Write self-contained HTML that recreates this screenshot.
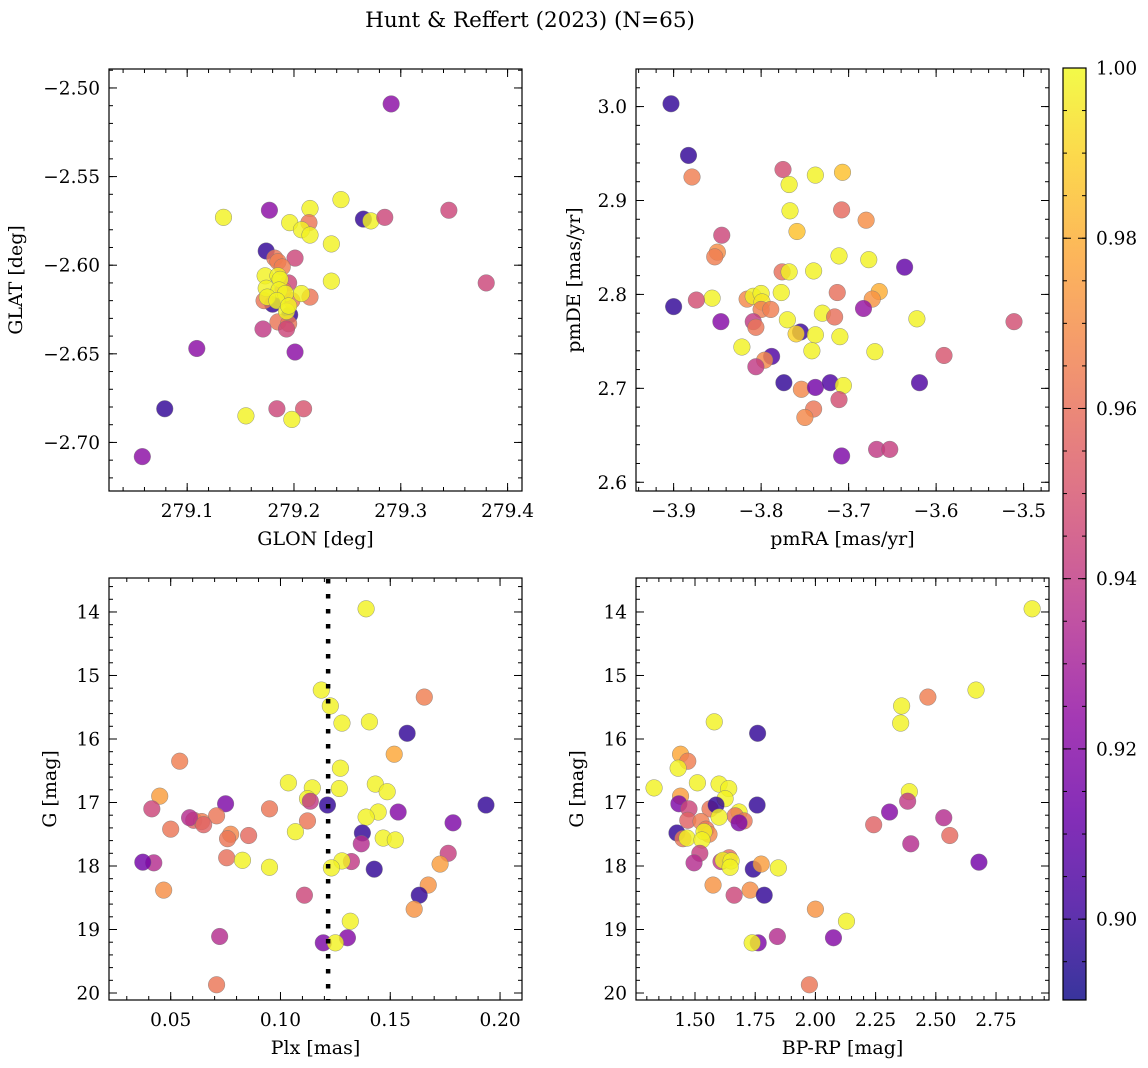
<!DOCTYPE html>
<html><head><meta charset="utf-8"><style>
html,body{margin:0;padding:0;background:#fff;}
svg{display:block;font-family:"DejaVu Serif","Liberation Serif",serif;}
</style></head><body>
<svg id="fig" width="1148" height="1068" viewBox="0 0 1148 1068" xmlns="http://www.w3.org/2000/svg">
<defs><linearGradient id="cbgrad" x1="0" y1="1" x2="0" y2="0"></linearGradient></defs>
<text x="530" y="27" font-size="21.5" text-anchor="middle">Hunt &amp; Reffert (2023) (N=65)</text>
</svg>
<script>
// ---- data: top-left (sky positions) ----
const glon=[279.291,279.134,279.177,279.244,279.215,279.265,279.272,279.285,279.345,279.196,279.214,279.207,279.215,279.235,279.174,279.182,279.185,279.201,279.189,279.195,279.180,279.196,279.185,279.195,279.193,279.171,279.215,279.172,279.198,279.190,279.173,279.185,279.187,279.235,279.174,279.186,279.192,279.207,279.175,279.184,279.193,279.195,279.109,279.201,279.380,279.079,279.184,279.209,279.155,279.198,279.058];
const glat=[-2.509,-2.573,-2.569,-2.563,-2.568,-2.574,-2.575,-2.573,-2.569,-2.576,-2.576,-2.580,-2.583,-2.588,-2.592,-2.596,-2.598,-2.596,-2.601,-2.610,-2.622,-2.628,-2.632,-2.633,-2.636,-2.636,-2.618,-2.620,-2.620,-2.614,-2.606,-2.606,-2.608,-2.609,-2.613,-2.614,-2.616,-2.616,-2.618,-2.620,-2.626,-2.623,-2.647,-2.649,-2.610,-2.681,-2.681,-2.681,-2.685,-2.687,-2.708];
const probA=[0.922,0.998,0.922,0.998,0.998,0.898,0.998,0.945,0.945,0.998,0.962,0.998,0.998,0.998,0.898,0.962,0.965,0.945,0.965,0.945,0.898,0.898,0.962,0.962,0.945,0.940,0.962,0.962,0.962,0.962,0.998,0.998,0.998,0.998,0.998,0.998,0.998,0.998,0.998,0.998,0.998,0.998,0.922,0.922,0.945,0.898,0.945,0.950,0.998,0.998,0.922];
// ---- data: top-right (proper motions) ----
const pmra=[-3.903,-3.883,-3.879,-3.775,-3.738,-3.707,-3.768,-3.767,-3.708,-3.680,-3.759,-3.845,-3.850,-3.853,-3.711,-3.677,-3.636,-3.776,-3.768,-3.740,-3.856,-3.874,-3.900,-3.816,-3.809,-3.800,-3.777,-3.799,-3.800,-3.789,-3.713,-3.665,-3.673,-3.683,-3.730,-3.716,-3.622,-3.770,-3.511,-3.846,-3.809,-3.806,-3.755,-3.760,-3.738,-3.710,-3.822,-3.742,-3.670,-3.591,-3.788,-3.796,-3.806,-3.774,-3.754,-3.738,-3.721,-3.706,-3.619,-3.711,-3.740,-3.750,-3.708,-3.668,-3.653];
const pmde=[3.003,2.948,2.925,2.933,2.927,2.930,2.917,2.889,2.890,2.879,2.867,2.863,2.845,2.840,2.841,2.837,2.829,2.824,2.824,2.825,2.796,2.794,2.787,2.795,2.798,2.801,2.802,2.792,2.784,2.784,2.802,2.803,2.795,2.785,2.780,2.776,2.774,2.773,2.771,2.771,2.771,2.765,2.760,2.758,2.757,2.755,2.744,2.740,2.739,2.735,2.734,2.730,2.723,2.706,2.699,2.701,2.706,2.703,2.706,2.688,2.678,2.669,2.628,2.635,2.635];
const probB=[0.898,0.898,0.965,0.948,0.998,0.985,0.998,0.998,0.958,0.970,0.985,0.945,0.970,0.965,0.998,0.998,0.910,0.960,0.998,0.998,0.998,0.948,0.898,0.968,0.998,0.998,0.998,0.995,0.965,0.965,0.960,0.980,0.972,0.925,0.998,0.960,0.998,0.998,0.948,0.920,0.940,0.962,0.900,0.990,0.998,0.998,0.998,0.998,0.998,0.950,0.905,0.968,0.940,0.898,0.968,0.915,0.905,0.998,0.905,0.948,0.962,0.968,0.918,0.940,0.942];
// ---- data: bottom panels (parallax, magnitude, colour) ----
const plx=[0.139,0.1186,0.1655,0.1227,0.128,0.1405,0.1577,0.1518,0.0541,0.1273,0.1145,0.1036,0.1432,0.1268,0.045,0.1486,0.1123,0.095,0.1214,0.075,0.1936,0.0414,0.1136,0.1445,0.0709,0.1123,0.1786,0.139,0.0605,0.0641,0.05,0.0773,0.1068,0.1373,0.0759,0.1468,0.1523,0.1536,0.0586,0.0855,0.065,0.1368,0.1764,0.0423,0.0373,0.1323,0.0755,0.0827,0.128,0.095,0.1427,0.1727,0.1232,0.1673,0.1109,0.0468,0.1632,0.1609,0.1318,0.1305,0.0723,0.1195,0.125,0.0709];
const gmag=[13.95,15.23,15.34,15.48,15.75,15.73,15.91,16.24,16.35,16.46,16.77,16.69,16.71,16.78,16.90,16.83,16.94,17.10,17.04,17.02,17.04,17.10,16.98,17.15,17.21,17.29,17.32,17.23,17.28,17.30,17.42,17.50,17.46,17.48,17.57,17.56,17.59,17.15,17.24,17.52,17.35,17.65,17.80,17.95,17.94,17.93,17.87,17.91,17.92,18.02,18.05,17.97,18.03,18.30,18.46,18.38,18.46,18.68,18.87,19.13,19.11,19.21,19.21,19.87];
const bprp=[2.90,2.667,2.467,2.358,2.354,1.58,1.76,1.44,1.47,1.43,1.33,1.51,1.60,1.64,1.44,2.39,1.625,1.5625,1.5875,1.433,1.758,1.475,2.383,1.683,1.667,1.704,1.683,1.60,1.47,1.525,1.546,1.558,1.5375,1.425,1.45,1.467,1.529,2.308,2.533,2.558,2.242,2.396,1.52,1.496,2.679,1.608,1.642,1.617,1.65,1.646,1.742,1.775,1.846,1.575,1.6625,1.729,1.7875,2.0,2.129,2.075,1.842,1.7625,1.7375,1.975];
const probC=[0.998,0.998,0.965,0.998,0.998,0.998,0.898,0.978,0.965,0.998,0.998,0.998,0.998,0.998,0.975,0.998,0.998,0.962,0.898,0.918,0.898,0.945,0.940,0.998,0.962,0.962,0.918,0.998,0.955,0.965,0.962,0.968,0.998,0.898,0.962,0.998,0.998,0.920,0.935,0.958,0.955,0.935,0.942,0.935,0.915,0.940,0.960,0.998,0.998,0.998,0.898,0.975,0.998,0.972,0.945,0.970,0.898,0.972,0.998,0.920,0.935,0.918,0.998,0.962];
// ---- tick labels ----
const glonTicks=[279.1,279.2,279.3,279.4];
const glatTicks=[-2.50,-2.55,-2.60,-2.65,-2.70];
const pmraTicks=[-3.9,-3.8,-3.7,-3.6,-3.5];
const pmdeTicks=[2.6,2.7,2.8,2.9,3.0];
const plxTicks=[0.05,0.10,0.15,0.20];
const gTicks=[14,15,16,17,18,19,20];
const bprpTicks=[1.50,1.75,2.00,2.25,2.50,2.75];
const cbTicks=[0.90,0.92,0.94,0.96,0.98,1.00];
const plxCut=[0.1217];

const NS="http://www.w3.org/2000/svg";
const svg=document.getElementById('fig');
const TF=18.5, LF=19;
function el(tag,attrs,parent){const e=document.createElementNS(NS,tag);for(const k in attrs)e.setAttribute(k,attrs[k]);(parent||svg).appendChild(e);return e;}
const PL=[[0,'#0d0887'],[0.1,'#41049d'],[0.2,'#6a00a8'],[0.3,'#8f0da4'],[0.4,'#b12a90'],[0.5,'#cc4778'],[0.6,'#e16462'],[0.7,'#f2844b'],[0.8,'#fca636'],[0.9,'#fcce25'],[1,'#f0f921']];
function hx(h){return [1,3,5].map(i=>parseInt(h.substr(i,2),16));}
function plasma(t){t=Math.max(0,Math.min(1,t));for(let i=1;i<PL.length;i++){if(t<=PL[i][0]){const a=hx(PL[i-1][1]),b=hx(PL[i][1]);const f=(t-PL[i-1][0])/(PL[i][0]-PL[i-1][0]);return 'rgb('+a.map((v,j)=>Math.round(v+(b[j]-v)*f)).join(',')+')';}}return PL[PL.length-1][1];}
const VMIN=0.8905,VMAX=1.0;
function cmap(v){return plasma((v-VMIN)/(VMAX-VMIN));}

function fmt(v,d){return (v<0?'\u2212':'')+Math.abs(v).toFixed(d);}

function makeAxis(cfg){
  const {name,x0,x1,y0,y1,xmin,xmax,ymin,ymax,invert}=cfg;
  const sx=v=>x0+(v-xmin)/(xmax-xmin)*(x1-x0);
  const sy=invert?(v=>y0+(v-ymin)/(ymax-ymin)*(y1-y0)):(v=>y1-(v-ymin)/(ymax-ymin)*(y1-y0));
  const g=el('g',{});
  
  
  const ticks=el('g',{stroke:'#000','stroke-width':1},g);
  
  
  const lo=Math.min(xmin,xmax),hi=Math.max(xmin,xmax);
  for(let k=Math.ceil(lo/cfg.xminor-1e-6);k*cfg.xminor<=hi+1e-9;k++){const X=sx(k*cfg.xminor);
    el('line',{x1:X,x2:X,y1:y1,y2:y1-4},ticks);el('line',{x1:X,x2:X,y1:y0,y2:y0+4},ticks);}
  const ylo=Math.min(ymin,ymax),yhi=Math.max(ymin,ymax);
  for(let k=Math.ceil(ylo/cfg.yminor-1e-6);k*cfg.yminor<=yhi+1e-9;k++){const Y=sy(k*cfg.yminor);
    el('line',{x1:x0,x2:x0+4,y1:Y,y2:Y},ticks);el('line',{x1:x1,x2:x1-4,y1:Y,y2:Y},ticks);}
  cfg.xticks.forEach(v=>{const X=sx(v);
    el('line',{x1:X,x2:X,y1:y1,y2:y1-8},ticks);el('line',{x1:X,x2:X,y1:y0,y2:y0+8},ticks);
    const t=el('text',{x:X,y:y1+26,'font-size':TF,'text-anchor':'middle'},g);t.textContent=fmt(v,cfg.xdec);
    
    });
  cfg.yticks.forEach(v=>{const Y=sy(v);
    el('line',{x1:x0,x2:x0+8,y1:Y,y2:Y},ticks);el('line',{x1:x1,x2:x1-8,y1:Y,y2:Y},ticks);
    const t=el('text',{x:x0-9,y:Y+6.5,'font-size':TF,'text-anchor':'end'},g);t.textContent=fmt(v,cfg.ydec);
    
    });
  const xl=el('text',{x:(x0+x1)/2,y:y1+54,'font-size':LF,'text-anchor':'middle'},g);xl.textContent=cfg.xlabel;
  
  
  const yl=el('text',{x:cfg.ylx,y:(y0+y1)/2,'font-size':LF,'text-anchor':'middle',transform:'rotate(-90 '+cfg.ylx+' '+((y0+y1)/2)+')'},g);yl.textContent=cfg.ylabel;
  
  
  const clip='clip-'+name;const cp=el('clipPath',{id:clip},g);el('rect',{x:x0,y:y0,width:x1-x0,height:y1-y0},cp);
  const pts=el('g',{'clip-path':'url(#'+clip+')'},g);
  
  
  return {sx,sy,g,pts,frame:()=>{const f=el('rect',{x:x0,y:y0,width:x1-x0,height:y1-y0,fill:'none',stroke:'#000','stroke-width':1.2},g);
    
    }};
}
function scatter(ax,xs,ys,cs){
  for(let i=0;i<xs.length;i++){
    const c=el('circle',{cx:ax.sx(xs[i]),cy:ax.sy(ys[i]),r:8.3,fill:cmap(cs[i]),'fill-opacity':0.82,stroke:'#777','stroke-width':0.5,'stroke-opacity':0.8},ax.pts);
    
    
  }
}
const axA=makeAxis({name:'sky-panel',x0:109,x1:522,y0:69,y1:491,xmin:279.0268,xmax:279.4135,ymin:-2.7274,ymax:-2.4893,xticks:glonTicks,yticks:glatTicks,xminor:0.02,yminor:0.01,xdec:1,ydec:2,xlabel:'GLON [deg]',ylabel:'GLAT [deg]',ylx:22});
scatter(axA,glon,glat,probA);axA.frame();
const axB=makeAxis({name:'pm-panel',x0:636,x1:1049,y0:69,y1:491,xmin:-3.943,xmax:-3.471,ymin:2.5907,ymax:3.040,xticks:pmraTicks,yticks:pmdeTicks,xminor:0.02,yminor:0.02,xdec:1,ydec:1,xlabel:'pmRA [mas/yr]',ylabel:'pmDE [mas/yr]',ylx:580});
scatter(axB,pmra,pmde,probB);axB.frame();
const axC=makeAxis({name:'plx-panel',x0:109,x1:522,y0:578,y1:1000,xmin:0.0219,xmax:0.2100,ymin:13.465,ymax:20.11,invert:true,xticks:plxTicks,yticks:gTicks,xminor:0.01,yminor:0.2,xdec:2,ydec:0,xlabel:'Plx [mas]',ylabel:'G [mag]',ylx:56});
scatter(axC,plx,gmag,probC);
plxCut.forEach(v=>{const X=axC.sx(v);const l=el('line',{x1:X,x2:X,y1:578,y2:1000,stroke:'#000','stroke-width':4.5,'stroke-dasharray':'4.5 10.5','stroke-dashoffset':-1},axC.g);
  
  });
axC.frame();
const axD=makeAxis({name:'cmd-panel',x0:636,x1:1049,y0:578,y1:1000,xmin:1.255,xmax:2.970,ymin:13.465,ymax:20.11,invert:true,xticks:bprpTicks,yticks:gTicks,xminor:0.05,yminor:0.2,xdec:2,ydec:0,xlabel:'BP-RP [mag]',ylabel:'G [mag]',ylx:583});
scatter(axD,bprp,gmag,probC);axD.frame();

const grad=document.getElementById('cbgrad');
for(let i=0;i<=20;i++){el('stop',{offset:(i/20),'stop-color':plasma(i/20),'stop-opacity':0.82},grad);}
const cbX0=1063,cbX1=1086,cbY0=68,cbY1=1000;
const cb=el('g',{});


el('rect',{x:cbX0,y:cbY0,width:cbX1-cbX0,height:cbY1-cbY0,fill:'url(#cbgrad)',stroke:'#000','stroke-width':1.2},cb);
const cy=v=>cbY1-(v-VMIN)/(VMAX-VMIN)*(cbY1-cbY0);
for(let v=0.895;v<=1.0001;v+=0.005){el('line',{x1:cbX1,x2:cbX1-4,y1:cy(v),y2:cy(v),stroke:'#000'},cb);el('line',{x1:cbX0,x2:cbX0+4,y1:cy(v),y2:cy(v),stroke:'#000'},cb);}
cbTicks.forEach(v=>{const Y=cy(v);el('line',{x1:cbX1,x2:cbX1-8,y1:Y,y2:Y,stroke:'#000'},cb);el('line',{x1:cbX0,x2:cbX0+8,y1:Y,y2:Y,stroke:'#000'},cb);
  const t=el('text',{x:cbX1+10,y:Y+6.5,'font-size':TF},cb);t.textContent=v.toFixed(2);
  
  });
</script>
</body></html>
